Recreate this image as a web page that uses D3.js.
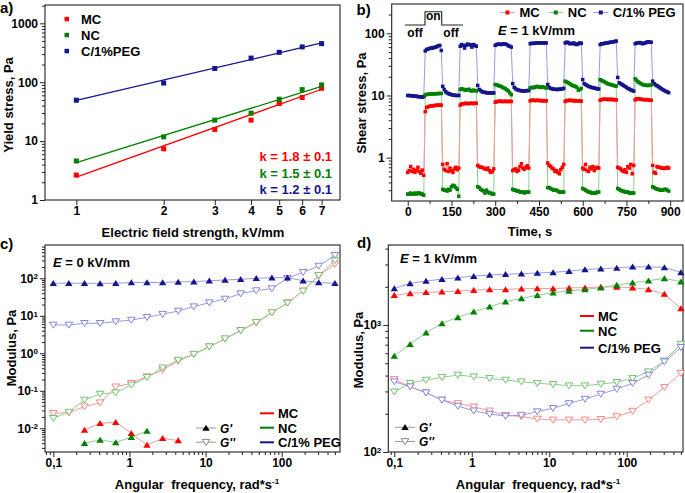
<!DOCTYPE html>
<html><head><meta charset="utf-8">
<script src="https://cdn.jsdelivr.net/npm/d3@7"></script>
<style>
body{margin:0;background:#fff}
svg{display:block}
text{white-space:pre}
</style></head><body>
<svg id="chart" width="685" height="493"></svg>
<script>
// ---------------- DATA ----------------
// Panel a: yield stress vs field strength
const fieldStrength = [1, 2, 3, 4, 5, 6, 7];
const yieldMC  = [2.65, 7.4, 15.8, 22.7, 43.6, 55, 79];
const yieldNC  = [4.6, 11.8, 22.7, 29.8, 51.5, 75, 90];
const yieldPEG = [49.5, 97, 171, 257, 322, 398, 453];
const fitField = [1, 7];
const fitMC  = [2.45, 76];
const fitNC  = [4.3, 85];
const fitPEG = [49, 464];
const seriesNamesA = ["MC", "NC", "C/1%PEG"];
const slopeLabels = ["k = 1.8 ± 0.1", "k = 1.5 ± 0.1", "k = 1.2 ± 0.1"];
const fieldTicks = [1, 2, 3, 4, 5, 6, 7];
const yieldTicks = [1, 10, 100, 1000];

// Panel b: shear stress vs time, on/off cycles (5 s sampling)
const timeStep = 5;
const shearMC = [
 0.58,0.62,0.72,0.60,0.65,0.58,0.62,0.70,0.60,0.56,0.63,0.52,
 5.5,6.4,6.6,6.7,6.8,6.8,6.9,6.9,7.0,7.0,7.0,7.0,
 0.78,0.65,0.62,0.80,0.60,0.68,0.62,0.58,0.66,0.70,0.64,0.68,
 7.0,7.3,7.4,7.4,7.5,7.4,7.4,7.5,7.5,7.4,7.5,7.5,
 0.75,0.72,0.70,0.70,0.68,0.66,0.65,0.68,0.62,0.58,0.60,0.66,
 7.8,8.0,8.0,8.1,8.1,8.0,8.0,8.1,8.0,8.0,8.1,8.0,
 0.62,0.64,0.66,0.60,0.63,0.72,0.80,0.68,0.65,0.70,0.74,0.68,
 8.2,8.4,8.4,8.3,8.3,8.4,8.3,8.3,8.2,8.3,8.2,8.2,
 0.82,0.75,0.72,0.68,0.66,0.60,0.62,0.58,0.55,0.64,0.70,0.78,
 8.0,8.3,8.3,8.4,8.3,8.3,8.2,8.3,8.2,8.2,8.2,8.1,
 0.68,0.65,0.78,0.62,0.60,0.70,0.66,0.72,0.62,0.68,0.70,0.68,
 8.4,8.6,8.7,8.7,8.7,8.6,8.7,8.6,8.7,8.5,8.6,8.5,
 0.70,0.68,0.66,0.62,0.60,0.64,0.58,0.72,0.68,0.78,0.55,0.75,
 8.5,8.8,8.9,8.8,8.7,8.6,8.6,8.5,8.6,8.5,8.4,8.4,
 0.75,0.58,0.56,0.72,0.70,0.70,0.68,0.68,0.67,0.68,0.70,0.68
];
const shearNC = [
 0.26,0.26,0.27,0.26,0.26,0.27,0.26,0.27,0.27,0.26,0.26,0.25,
 10.2,10.4,10.5,10.5,10.6,10.6,10.6,10.7,10.7,10.7,10.8,10.8,
 0.31,0.30,0.30,0.29,0.31,0.30,0.34,0.36,0.35,0.33,0.31,0.24,
 12.5,12.8,12.6,12.3,12.1,12.4,12.6,12.0,11.8,12.2,12.0,11.8,
 0.34,0.33,0.31,0.30,0.29,0.27,0.30,0.28,0.27,0.27,0.26,0.26,
 15,14.8,14.5,14.2,14,13.5,13.2,12.8,12.3,11.8,11,10.3,
 0.31,0.30,0.30,0.29,0.29,0.28,0.28,0.28,0.27,0.28,0.28,0.28,
 13.2,13.5,13.3,13.6,13.8,14,13.7,13.5,13.8,13.6,13.4,13.2,
 0.33,0.33,0.32,0.31,0.30,0.30,0.30,0.29,0.28,0.28,0.28,0.28,
 17,16.5,16,15.5,15,14.5,14.2,14,13.5,12.2,12.5,13,
 0.32,0.31,0.30,0.29,0.28,0.28,0.27,0.27,0.27,0.27,0.28,0.28,
 18,17.5,17,16.5,16,15.5,15.2,15,14.8,14.5,14.3,14.2,
 0.32,0.31,0.30,0.29,0.29,0.28,0.28,0.28,0.27,0.27,0.27,0.27,
 18.5,17.5,16.5,16,15.5,15,14.8,14.7,14.5,14.5,14.6,14.8,
 0.34,0.33,0.32,0.31,0.31,0.30,0.30,0.30,0.31,0.31,0.30,0.29
];
const shearPEG = [
 10.0,10.0,9.9,9.9,9.8,9.8,9.7,9.6,9.5,9.5,9.4,9.6,
 52,55,56,57,58,58,59,60,61,63,64,53,
 14,12.5,11.5,11,10.7,10.5,10.3,10.2,10.1,10,10,10,
 62,66,64,58,64,67,66,65,60,66,64,62,
 14.5,12.5,12,11.5,11.3,11.2,11.1,11,11,11,10.9,11,
 64,66,67,67,66,67,68,67,66,63,62,60,
 15.5,13.5,12.8,12.4,12.2,12,11.9,11.8,11.8,11.9,12,12,
 68,69,69,69,70,70,70,70,70,70,70,70,
 15,13.5,13,12.8,12.6,12.6,12.5,12.5,12.6,12.7,12.8,13,
 70,72,71,68,69,68,70,67,66,68,70,69,
 18,15.5,15,14.5,14,13.8,13.5,13.3,13.2,13,12.8,12.7,
 66,68,68,69,70,70,71,72,72,73,74,75,
 19.5,16,15.5,15,14.5,14,13.5,13,12.7,12.3,12,11.8,
 68,70,70,71,70,68,69,70,72,73,72,72,
 17,15.5,14.8,14.3,13.8,13.3,12.8,12.4,12,11.7,11.4,11.1
];
const seriesNamesB = ["MC", "NC", "C/1% PEG"];
const timeTicks = [0, 150, 300, 450, 600, 750, 900];
const timeMinorTicks = [75, 225, 375, 525, 675, 825];
const shearTicks = [1, 10, 100];

// Panels c & d: moduli vs angular frequency
const angFreq = [0.1,0.16,0.257,0.412,0.661,1.06,1.7,2.73,4.37,7.01,11.2,18,28.9,46.3,74.3,119,191,306,500];
const freqTicks = [0.1, 1, 10, 100];
// c) E = 0 kV/mm
const cGpMC   = [null,null,0.009,0.0136,0.0145,0.0074,0.0036,0.0054,0.0047,null,null,null,null,null,null,null,null,null,null];
const cGpNC   = [null,null,0.0040,0.0049,0.0042,0.0058,0.0085,null,null,null,null,null,null,null,null,null,null,null,null];
const cGpPEG  = [74,74,74,73,74,77,77,78,80,81,86,90,94,100,104,104,86,77,74];
const cGppMC  = [0.0251,0.026,0.0377,0.048,0.128,0.158,0.238,0.359,0.62,0.94,1.5,2.4,4.0,6.5,12.0,22.5,46,115,240];
const cGppNC  = [0.0185,0.027,0.057,0.082,0.089,0.143,0.23,0.41,0.66,0.95,1.5,2.45,4.1,6.7,12.2,22,46,120,300];
const cGppPEG = [5.7,5.7,6.3,6.3,7.0,7.7,9.1,11,13.4,17.5,22.4,28,39,47,53,100,145,213,410];
const cModTicks = [0.01, 0.1, 1, 10, 100];
// d) E = 1 kV/mm
const dGpMC   = [1720,1775,1810,1830,1850,1885,1905,1905,1930,1940,1940,1960,1970,1995,1995,1970,1905,1755,1350];
const dGpNC   = [570,708,870,1030,1150,1273,1394,1527,1623,1720,1795,1853,1905,1970,2066,2155,2236,2333,2193];
const dGpPEG  = [1945,2130,2220,2300,2360,2430,2480,2510,2540,2570,2600,2660,2740,2775,2820,2875,2875,2840,2600];
const dGppMC  = [373,327,293,257,241,227,211,195,190,182,179,179,179,181,190,210,257,323,417];
const dGppNC  = [298,348,369,387,404,392,380,369,358,348,341,333,333,343,354,380,429,523,708];
const dGppPEG = [358,327,293,257,230,211,199,192,195,208,221,241,261,286,313,348,404,514,667];
const dModTicks = [100, 1000];
const seriesNamesCD = ["MC", "NC", "C/1% PEG"];

// ---------------- STYLE ----------------
const FONT = '"Liberation Sans", Arial, Helvetica, sans-serif';
const RED = "#ff0000", GREEN = "#008000", NAVY = "#14148c";
const RED_L = "#f59a9a", GREEN_L = "#8fcf8f", NAVY_L = "#9a9ae6";
const RED_O = "#ff8585", GREEN_O = "#72c272", NAVY_O = "#8484e0";

const svg = d3.select("#chart")
  .attr("font-family", FONT).attr("font-weight", "bold");
svg.append("rect").attr("width", 685).attr("height", 493).attr("fill", "#fff");

function logTicks(domain) {
  const out = [];
  const [a, b] = domain;
  for (let e = Math.floor(Math.log10(a)); e <= Math.ceil(Math.log10(b)); e++) {
    for (let k = 1; k <= 9; k++) {
      const v = +(k * Math.pow(10, e)).toPrecision(6);
      if (v >= a && v <= b) out.push(v);
    }
  }
  return out;
}
const isDecade = v => Math.abs(Math.log10(v) - Math.round(Math.log10(v))) < 1e-6;

function frame(x0, y0, x1, y1) {
  svg.append("rect").attr("x", x0).attr("y", y0).attr("width", x1 - x0).attr("height", y1 - y0)
    .attr("fill", "none").attr("stroke", "#222").attr("stroke-width", 1.1);
}

function axis(orient, scale, pos, majors, minors, fmt) {
  const mk = orient === "bottom" ? d3.axisBottom : d3.axisLeft;
  const tr = orient === "bottom" ? `translate(0,${pos})` : `translate(${pos},0)`;
  if (minors && minors.length) {
    const m = svg.append("g").attr("transform", tr)
      .call(mk(scale).tickValues(minors).tickSize(3).tickFormat(""));
    m.select(".domain").remove();
    m.selectAll("line").attr("stroke", "#222");
  }
  const g = svg.append("g").attr("transform", tr)
    .call(mk(scale).tickValues(majors).tickSize(5).tickPadding(orient === "bottom" ? 1 : 2).tickFormat(fmt));
  g.select(".domain").remove();
  g.attr("font-family", FONT).attr("font-size", 12).attr("font-weight", "bold");
  g.selectAll("line").attr("stroke", "#222");
  g.selectAll("text").attr("fill", "#000");
  return g;
}

function powerLabels(g) {
  g.selectAll(".tick text").each(function (d) {
    const t = d3.select(this);
    t.text(null);
    t.append("tspan").text("10");
    t.append("tspan").attr("dy", "-0.45em").attr("font-size", 8).text(Math.round(Math.log10(d)));
  });
}

function text(x, y, str, opts = {}) {
  const t = svg.append("text").attr("x", x).attr("y", y)
    .attr("font-size", opts.size || 13).attr("fill", opts.fill || "#000")
    .attr("text-anchor", opts.anchor || "start").text(str);
  if (opts.rotate) t.attr("transform", `rotate(-90,${x},${y})`);
  return t;
}

function eLabel(x, y, val) {
  const t = svg.append("text").attr("x", x).attr("y", y).attr("font-size", 13);
  t.append("tspan").attr("font-style", "italic").text("E");
  t.append("tspan").text(" = " + val + " kV/mm");
}

// ---------------- PANEL A ----------------
{
  const P = { x0: 45, x1: 340, y0: 5, y1: 200 };
  const x = d3.scaleLog().domain([0.78, 8.1]).range([P.x0, P.x1]);
  const y = d3.scaleLog().domain([1, 2050]).range([P.y1, P.y0]);
  axis("bottom", x, P.y1, fieldTicks, null, d3.format("d"));
  const yMinor = logTicks(y.domain()).filter(v => !isDecade(v));
  axis("left", y, P.x0, yieldTicks, yMinor, d3.format("d"));
  frame(P.x0, P.y0, P.x1, P.y1);

  const line = d3.line().x(d => x(d[0])).y(d => y(d[1]));
  const sets = [[yieldMC, fitMC, RED], [yieldNC, fitNC, GREEN], [yieldPEG, fitPEG, NAVY]];
  sets.forEach(([vals, fit, col]) => {
    svg.append("path").attr("d", line(fitField.map((f, i) => [f, fit[i]])))
      .attr("fill", "none").attr("stroke", col).attr("stroke-width", 1.3);
  });
  sets.forEach(([vals, fit, col]) => {
    svg.append("g").selectAll("rect").data(fieldStrength.map((f, i) => [f, vals[i]])).join("rect")
      .attr("x", d => x(d[0]) - 2.5).attr("y", d => y(d[1]) - 2.5)
      .attr("width", 5).attr("height", 5).attr("fill", col);
  });
  // legend
  const legCols = [RED, GREEN, NAVY];
  seriesNamesA.forEach((n, i) => {
    const cy = 19 + i * 16;
    svg.append("rect").attr("x", 64.5).attr("y", cy - 2.2).attr("width", 4.5).attr("height", 4.5).attr("fill", legCols[i]);
    text(81, cy + 5, n, { size: 13 });
  });
  slopeLabels.forEach((s, i) => text(332, 161 + i * 16.5, s, { size: 13, anchor: "end", fill: legCols[i] }));
  text(193, 237, "Electric field strength, kV/mm", { anchor: "middle" });
  text(13, 105, "Yield stress, Pa", { anchor: "middle", rotate: true });
  text(0, 13, "a)", { size: 15 });
}

// ---------------- PANEL B ----------------
{
  const P = { x0: 391.7, x1: 683, y0: 4, y1: 201 };
  const x = d3.scaleLinear().domain([-55, 944]).range([P.x0, P.x1]);
  const y = d3.scaleLog().domain([0.201, 296]).range([P.y1, P.y0]);
  axis("bottom", x, P.y1, timeTicks, timeMinorTicks, d3.format("d"));
  const yMinor = logTicks(y.domain()).filter(v => !isDecade(v));
  axis("left", y, P.x0, shearTicks, yMinor, d3.format("d"));
  frame(P.x0, P.y0, P.x1, P.y1);

  const line = d3.line().x(d => x(d[0])).y(d => y(d[1]));
  const sets = [[shearPEG, NAVY_L, NAVY], [shearNC, GREEN_L, GREEN], [shearMC, RED_L, RED]];
  sets.forEach(([vals, lc]) => {
    svg.append("path").attr("d", line(vals.map((v, i) => [i * timeStep, v])))
      .attr("fill", "none").attr("stroke", lc).attr("stroke-width", 1);
  });
  sets.forEach(([vals, lc, col]) => {
    svg.append("g").selectAll("rect").data(vals.map((v, i) => [i * timeStep, v])).join("rect")
      .attr("x", d => x(d[0]) - 1.75).attr("y", d => y(d[1]) - 1.75)
      .attr("width", 3.5).attr("height", 3.5).attr("fill", col);
  });
  // legend
  const legB = [[RED_L, RED, 500], [GREEN_L, GREEN, 548.3], [NAVY_L, NAVY, 593.3]];
  seriesNamesB.forEach((n, i) => {
    const [lc, col, lx] = legB[i];
    svg.append("line").attr("x1", lx).attr("x2", lx + 15).attr("y1", 12.5).attr("y2", 12.5).attr("stroke", lc).attr("stroke-width", 1);
    svg.append("rect").attr("x", lx + 5.5).attr("y", 10.5).attr("width", 4).attr("height", 4).attr("fill", col);
    text(lx + 19.5, 17, n, { size: 13 });
  });
  eLabel(498, 35, "1");
  // on/off inset
  svg.append("path").attr("d", "M405,25H425V11.7H441.7V25H463")
    .attr("fill", "none").attr("stroke", "#222").attr("stroke-width", 1.1);
  text(433.3, 20, "on", { size: 12, anchor: "middle" });
  text(415, 36.5, "off", { size: 12, anchor: "middle" });
  text(451, 36.5, "off", { size: 12, anchor: "middle" });
  text(530, 236, "Time, s", { anchor: "middle" });
  text(366, 103, "Shear stress, Pa", { anchor: "middle", rotate: true });
  text(356.5, 15, "b)", { size: 15 });
}

// ---------------- PANELS C & D helpers ----------------
const triUp = "M0,-3.2L3.7,2.8L-3.7,2.8Z";
const triDown = "M0,3.2L3.8,-2.8L-3.8,-2.8Z";

function modPanel(P, x, y, gp, gpp) {
  const line = d3.line().defined(d => d[1] != null).x(d => x(d[0])).y(d => y(d[1]));
  const cols = [[RED, RED_L, RED_O], [GREEN, GREEN_L, GREEN_O], [NAVY, NAVY_L, NAVY_O]];
  [0, 1, 2].forEach(i => {
    svg.append("path").attr("d", line(angFreq.map((f, j) => [f, gpp[i][j]])))
      .attr("fill", "none").attr("stroke", cols[i][1]).attr("stroke-width", 1);
    svg.append("path").attr("d", line(angFreq.map((f, j) => [f, gp[i][j]])))
      .attr("fill", "none").attr("stroke", cols[i][1]).attr("stroke-width", 1);
  });
  [0, 1, 2].forEach(i => {
    svg.append("g").selectAll("path").data(angFreq.map((f, j) => [f, gpp[i][j]]).filter(d => d[1] != null)).join("path")
      .attr("d", triDown).attr("transform", d => `translate(${x(d[0])},${y(d[1])})`)
      .attr("fill", "#fff").attr("stroke", cols[i][2]).attr("stroke-width", 1);
  });
  [0, 1, 2].forEach(i => {
    svg.append("g").selectAll("path").data(angFreq.map((f, j) => [f, gp[i][j]]).filter(d => d[1] != null)).join("path")
      .attr("d", triUp).attr("transform", d => `translate(${x(d[0])},${y(d[1])})`)
      .attr("fill", cols[i][0]);
  });
}

function seriesLegend(lx, ys) {
  const cols = [RED, GREEN, NAVY];
  seriesNamesCD.forEach((n, i) => {
    svg.append("line").attr("x1", lx).attr("x2", lx + 14).attr("y1", ys[i]).attr("y2", ys[i]).attr("stroke", cols[i]).attr("stroke-width", 2);
    text(lx + 18, ys[i] + 5, n, { size: 13 });
  });
}
function gLegend(lx, ys) {
  svg.append("line").attr("x1", lx).attr("x2", lx + 20).attr("y1", ys[0]).attr("y2", ys[0]).attr("stroke", "#999");
  svg.append("path").attr("d", triUp).attr("transform", `translate(${lx + 10},${ys[0]})`).attr("fill", "#000");
  svg.append("line").attr("x1", lx).attr("x2", lx + 20).attr("y1", ys[1]).attr("y2", ys[1]).attr("stroke", "#999");
  svg.append("path").attr("d", triDown).attr("transform", `translate(${lx + 10},${ys[1]})`).attr("fill", "#fff").attr("stroke", "#888");
  svg.append("text").attr("x", lx + 24).attr("y", ys[0] + 4.5).attr("font-size", 12).attr("font-style", "italic").text("G'");
  svg.append("text").attr("x", lx + 24).attr("y", ys[1] + 4.5).attr("font-size", 12).attr("font-style", "italic").text("G''");
}
function freqTitle(cx) {
  const t = svg.append("text").attr("x", cx).attr("y", 489).attr("font-size", 13).attr("text-anchor", "middle");
  t.append("tspan").text("Angular  frequency, rad*s");
  t.append("tspan").attr("dy", -5).attr("font-size", 8).text("-1");
}
const freqFmt = d => d === 0.1 ? "0,1" : String(d);

// ---------------- PANEL C ----------------
{
  const P = { x0: 45, x1: 340, y0: 245, y1: 452 };
  const x = d3.scaleLog().domain([0.0778, 583]).range([P.x0, P.x1]);
  const y = d3.scaleLog().domain([0.00233, 773]).range([P.y1, P.y0]);
  axis("bottom", x, P.y1, freqTicks, logTicks(x.domain()).filter(v => !isDecade(v)), freqFmt);
  const ya = axis("left", y, P.x0, cModTicks, logTicks(y.domain()).filter(v => !isDecade(v)), d3.format("d"));
  powerLabels(ya);
  frame(P.x0, P.y0, P.x1, P.y1);
  modPanel(P, x, y, [cGpMC, cGpNC, cGpPEG], [cGppMC, cGppNC, cGppPEG]);
  eLabel(53, 267, "0");
  gLegend(196, [428, 442.2]);
  seriesLegend(260, [413.3, 427.7, 442.3]);
  freqTitle(197);
  text(16, 348, "Modulus, Pa", { anchor: "middle", rotate: true });
  text(0, 249, "c)", { size: 15 });
}

// ---------------- PANEL D ----------------
{
  const P = { x0: 388.3, x1: 683, y0: 245, y1: 452 };
  const x = d3.scaleLog().domain([0.0837, 532]).range([P.x0, P.x1]);
  const y = d3.scaleLog().domain([100, 4270]).range([P.y1, P.y0]);
  axis("bottom", x, P.y1, freqTicks, logTicks(x.domain()).filter(v => !isDecade(v)), freqFmt);
  const ya = axis("left", y, P.x0, dModTicks, logTicks(y.domain()).filter(v => !isDecade(v)), d3.format("d"));
  powerLabels(ya);
  frame(P.x0, P.y0, P.x1, P.y1);
  modPanel(P, x, y, [dGpMC, dGpNC, dGpPEG], [dGppMC, dGppNC, dGppPEG]);
  eLabel(400, 263, "1");
  gLegend(395, [427.3, 441.5]);
  seriesLegend(580, [316, 330.7, 347.7]);
  freqTitle(538);
  text(363, 350, "Modulus, Pa", { anchor: "middle", rotate: true });
  text(357, 248, "d)", { size: 15 });
}
</script>
</body></html>
